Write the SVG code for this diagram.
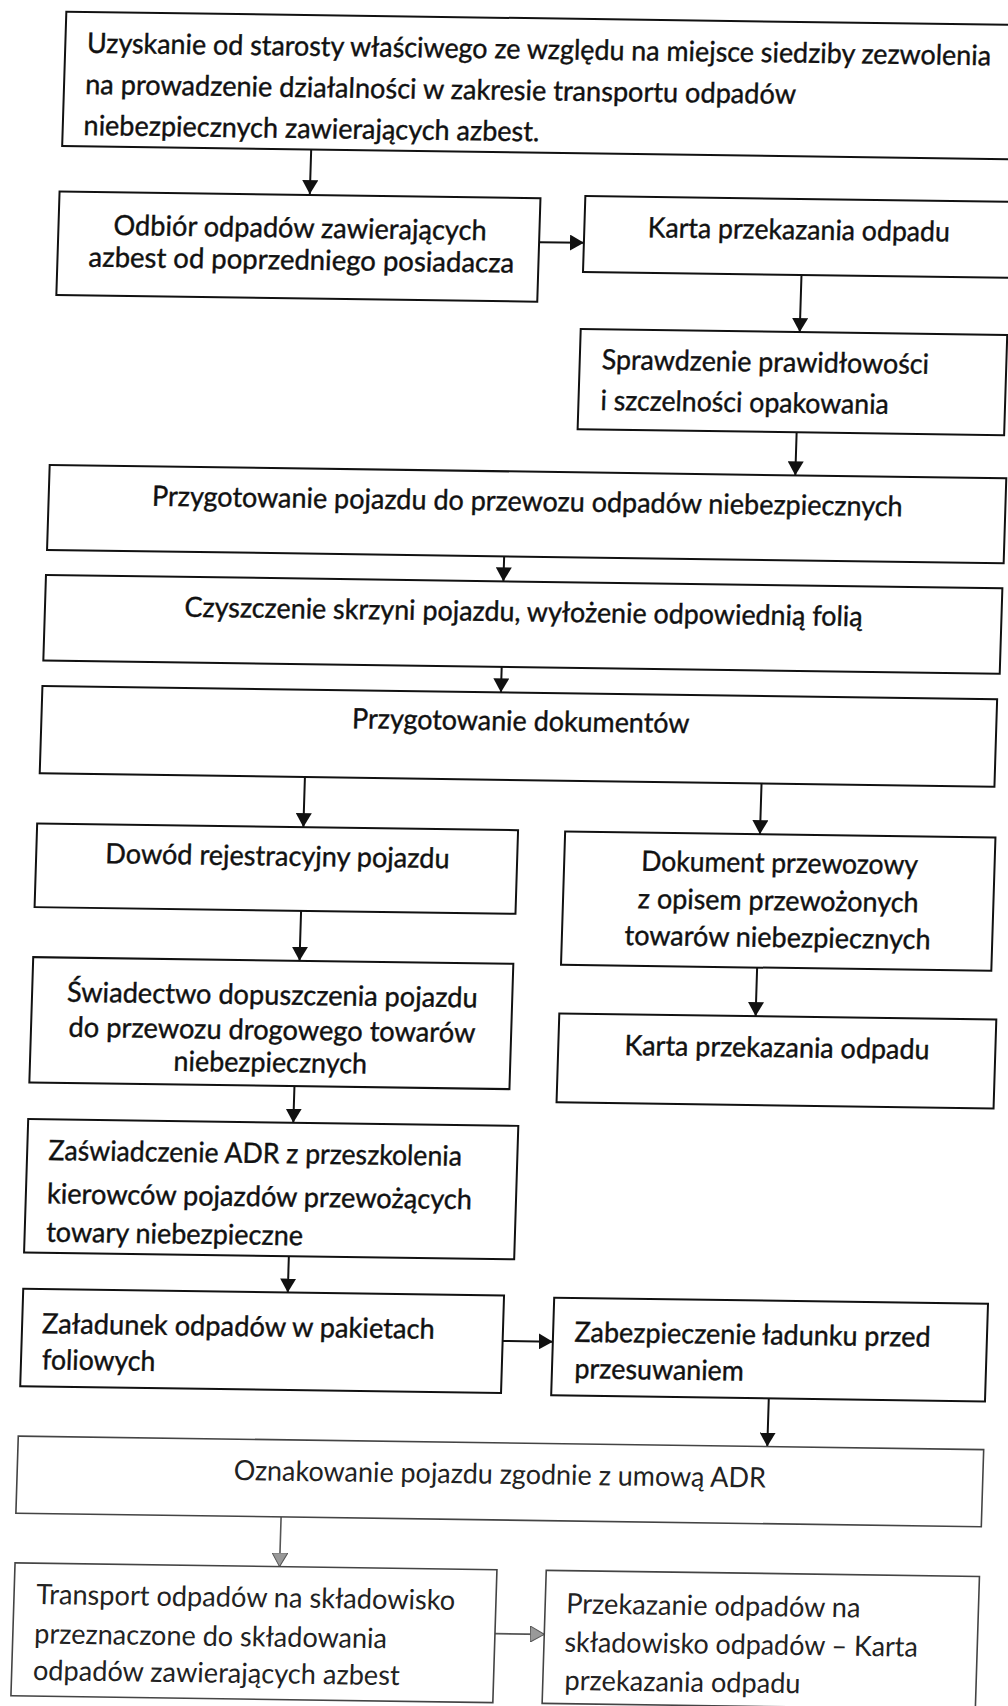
<svg xmlns="http://www.w3.org/2000/svg" width="1008" height="1706" viewBox="0 0 1008 1706">
<style>
.box{fill:#fff;stroke:#111;stroke-width:2}
.lt{stroke:#444;stroke-width:1.6}
.t{font-family:Lato,"Liberation Sans",sans-serif;font-size:28px;fill:#111;stroke:#111;stroke-width:0.4}
.tl{stroke-width:0;fill:#222}
.c{stroke:#111;stroke-width:2;fill:none;marker-end:url(#ah)}
.g{stroke:#555;stroke-width:1.6;fill:none;marker-end:url(#ahg)}
</style>
<defs>
<marker id="ah" viewBox="0 0 14 16" refX="14" refY="8" markerWidth="14" markerHeight="16" markerUnits="userSpaceOnUse" orient="auto"><path d="M0,0 L14,8 L0,16 z" fill="#111"/></marker>
<marker id="ahg" viewBox="0 0 14 16" refX="14" refY="8" markerWidth="14" markerHeight="16" markerUnits="userSpaceOnUse" orient="auto"><path d="M0,0 L14,8 L0,16 z" fill="#999" stroke="#555" stroke-width="1"/></marker>
</defs>
<rect width="1008" height="1706" fill="#fff"/>
<g transform="matrix(1,0.014,-0.031,1,26.4,-7.1)">
<g id="connectors">
<line class="c" x1="289.5" y1="152.5" x2="289.5" y2="197.2"/>
<line class="c" x1="520.2" y1="242" x2="565" y2="242"/>
<line class="c" x1="783.5" y1="271" x2="783.5" y2="328.2"/>
<line class="c" x1="783.5" y1="428.4" x2="783.5" y2="471.5"/>
<line class="c" x1="495" y1="556.5" x2="495" y2="581.5"/>
<line class="c" x1="496" y1="667" x2="496" y2="692.5"/>
<line class="c" x1="302.7" y1="780" x2="302.7" y2="830"/>
<line class="c" x1="759.3" y1="780" x2="759.3" y2="830.7"/>
<line class="c" x1="303" y1="913.7" x2="303" y2="963.7"/>
<line class="c" x1="760.6" y1="964" x2="760.6" y2="1012.6"/>
<line class="c" x1="301.8" y1="1089" x2="301.8" y2="1125.6"/>
<line class="c" x1="301.5" y1="1259" x2="301.5" y2="1295.4"/>
<line class="c" x1="517.8" y1="1340.8" x2="568" y2="1340.8"/>
<line class="c" x1="785.6" y1="1394.5" x2="785.6" y2="1442.7"/>
<line class="g" x1="301.8" y1="1519.8" x2="301.8" y2="1569.5"/>
<line class="g" x1="519.2" y1="1633.5" x2="568.5" y2="1633.5"/>
</g>
<g id="n1"><rect class="box" x="40.5" y="18.2" width="1019.5" height="134.3"/>
<text class="t" x="62.2" y="58.9" textLength="904" lengthAdjust="spacingAndGlyphs">Uzyskanie od starosty właściwego ze względu na miejsce siedziby zezwolenia</text>
<text class="t" x="61.7" y="100.2" textLength="710.7" lengthAdjust="spacingAndGlyphs">na prowadzenie działalności w zakresie transportu odpadów</text>
<text class="t" x="61.3" y="141.2" textLength="455.7" lengthAdjust="spacingAndGlyphs">niebezpiecznych zawierających azbest.</text></g>
<g id="n2"><rect class="box" x="39.3" y="198" width="480.9" height="103.5"/>
<text class="t" x="94.4" y="240.8" textLength="373" lengthAdjust="spacingAndGlyphs">Odbiór odpadów zawierających</text>
<text class="t" x="70.4" y="272.8" textLength="425.7" lengthAdjust="spacingAndGlyphs">azbest od poprzedniego posiadacza</text></g>
<g id="n3"><rect class="box" x="565" y="195.1" width="475" height="76"/>
<text class="t" x="628.5" y="235.6" textLength="302" lengthAdjust="spacingAndGlyphs">Karta przekazania odpadu</text></g>
<g id="n4"><rect class="box" x="564.5" y="328.2" width="426.5" height="100.2"/>
<text class="t" x="586.5" y="368.2" textLength="327.3" lengthAdjust="spacingAndGlyphs">Sprawdzenie prawidłowości</text>
<text class="t" x="586.5" y="408.9" textLength="288.3" lengthAdjust="spacingAndGlyphs">i szczelności opakowania</text></g>
<g id="n5"><rect class="box" x="37.9" y="471.5" width="956.6" height="85"/>
<text class="t" x="141.2" y="510.8" textLength="750.6" lengthAdjust="spacingAndGlyphs">Przygotowanie pojazdu do przewozu odpadów niebezpiecznych</text></g>
<g id="n6"><rect class="box" x="37.6" y="581.5" width="956.4" height="85.5"/>
<text class="t" x="177.2" y="621.3" textLength="678" lengthAdjust="spacingAndGlyphs">Czyszczenie skrzyni pojazdu, wyłożenie odpowiednią folią</text></g>
<g id="n7"><rect class="box" x="37.5" y="692.5" width="954.7" height="87.4"/>
<text class="t" x="348.1" y="730.5" textLength="337.3" lengthAdjust="spacingAndGlyphs">Przygotowanie dokumentów</text></g>
<g id="n8"><rect class="box" x="36.5" y="830" width="480.9" height="83.7"/>
<text class="t" x="105.6" y="868.9" textLength="344.3" lengthAdjust="spacingAndGlyphs">Dowód rejestracyjny pojazdu</text></g>
<g id="n9"><rect class="box" x="564.5" y="830.7" width="430.3" height="133.3"/>
<text class="t" x="641.5" y="868.8" textLength="276.7" lengthAdjust="spacingAndGlyphs">Dokument przewozowy</text>
<text class="t" x="639.3" y="906.5" textLength="280.7" lengthAdjust="spacingAndGlyphs">z opisem przewożonych</text>
<text class="t" x="627.1" y="943.3" textLength="306" lengthAdjust="spacingAndGlyphs">towarów niebezpiecznych</text></g>
<g id="n10"><rect class="box" x="36.7" y="963.7" width="480.1" height="125.3"/>
<text class="t" x="71.6" y="1007.8" textLength="410.7" lengthAdjust="spacingAndGlyphs">Świadectwo dopuszczenia pojazdu</text>
<text class="t" x="74.3" y="1042.8" textLength="406.7" lengthAdjust="spacingAndGlyphs">do przewozu drogowego towarów</text>
<text class="t" x="180.3" y="1075.3" textLength="193.3" lengthAdjust="spacingAndGlyphs">niebezpiecznych</text></g>
<g id="n11"><rect class="box" x="564.3" y="1012.6" width="437" height="88.9"/>
<text class="t" x="630.5" y="1053.3" textLength="305" lengthAdjust="spacingAndGlyphs">Karta przekazania odpadu</text></g>
<g id="n12"><rect class="box" x="36.7" y="1125.6" width="490.1" height="133.4"/>
<text class="t" x="58.1" y="1166.3" textLength="413.3" lengthAdjust="spacingAndGlyphs">Zaświadczenie ADR z przeszkolenia</text>
<text class="t" x="57.8" y="1209.6" textLength="425" lengthAdjust="spacingAndGlyphs">kierowców pojazdów przewożących</text>
<text class="t" x="58.3" y="1248" textLength="256.7" lengthAdjust="spacingAndGlyphs">towary niebezpieczne</text></g>
<g id="n13"><rect class="box" x="37" y="1295.4" width="480.8" height="97.4"/>
<text class="t" x="56.9" y="1339.6" textLength="392.7" lengthAdjust="spacingAndGlyphs">Załadunek odpadów w pakietach</text>
<text class="t" x="58" y="1375.6" textLength="113.3" lengthAdjust="spacingAndGlyphs">foliowych</text></g>
<g id="n14"><rect class="box" x="568" y="1296.8" width="433.8" height="97.7"/>
<text class="t" x="589.4" y="1340.6" textLength="356" lengthAdjust="spacingAndGlyphs">Zabezpieczenie ładunku przed</text>
<text class="t" x="590.6" y="1377.1" textLength="169.3" lengthAdjust="spacingAndGlyphs">przesuwaniem</text></g>
<g id="n15"><rect class="box lt" x="36.6" y="1442.7" width="965.4" height="77.1"/>
<text class="t tl" x="253" y="1483.6" textLength="532.3" lengthAdjust="spacingAndGlyphs">Oznakowanie pojazdu zgodnie z umową ADR</text></g>
<g id="n16"><rect class="box lt" x="37.3" y="1569.5" width="481.9" height="132.9"/>
<text class="t tl" x="59.5" y="1610.3" textLength="419" lengthAdjust="spacingAndGlyphs">Transport odpadów na składowisko</text>
<text class="t tl" x="58.8" y="1649.6" textLength="352.7" lengthAdjust="spacingAndGlyphs">przeznaczone do składowania</text>
<text class="t tl" x="58.6" y="1686.3" textLength="366.7" lengthAdjust="spacingAndGlyphs">odpadów zawierających azbest</text></g>
<g id="n17"><rect class="box lt" x="568.5" y="1569.5" width="433.2" height="133"/>
<text class="t tl" x="589.5" y="1612.2" textLength="294.3" lengthAdjust="spacingAndGlyphs">Przekazanie odpadów na</text>
<text class="t tl" x="589" y="1650.6" textLength="353.3" lengthAdjust="spacingAndGlyphs">składowisko odpadów – Karta</text>
<text class="t tl" x="590.2" y="1688.8" textLength="236" lengthAdjust="spacingAndGlyphs">przekazania odpadu</text></g>
</g>
</svg>
